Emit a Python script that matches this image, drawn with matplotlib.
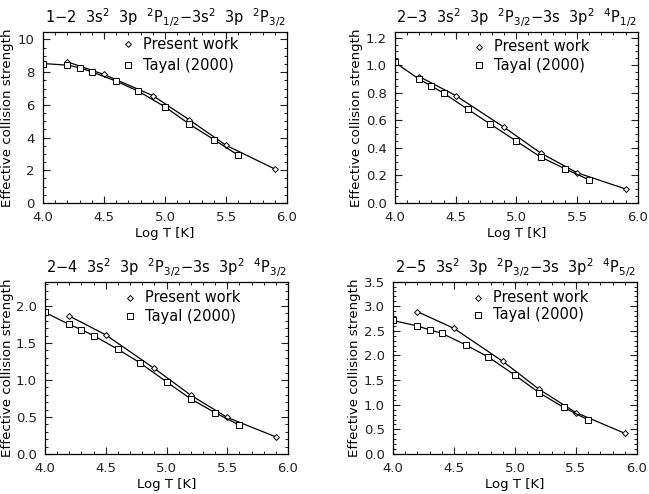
import numpy as np
import matplotlib
matplotlib.use("Agg")
import matplotlib.pyplot as plt
from matplotlib.ticker import MultipleLocator

# log T grids
logt_present = [4.2, 4.5, 4.9, 5.2, 5.5, 5.9]
logt_tayal = [4.0, 4.2, 4.3, 4.4, 4.6, 4.78, 5.0, 5.2, 5.4, 5.6]

# 1-2 transition
present_12 = [8.63, 7.86, 6.57, 5.08, 3.53, 2.08]
tayal_12 = [8.53, 8.43, 8.27, 8.02, 7.45, 6.84, 5.88, 4.82, 3.88, 2.92]

# 2-3 transition
present_23 = [0.917, 0.78, 0.549, 0.363, 0.22, 0.102]
tayal_23 = [1.02, 0.898, 0.849, 0.798, 0.68, 0.576, 0.449, 0.334, 0.249, 0.168]

# 2-4 transition
present_24 = [1.864, 1.61, 1.156, 0.794, 0.494, 0.231]
tayal_24 = [1.914, 1.75, 1.68, 1.60, 1.415, 1.234, 0.975, 0.744, 0.558, 0.39]

# 2-5 transition
present_25 = [2.89, 2.55, 1.88, 1.31, 0.84, 0.42]
tayal_25 = [2.71, 2.60, 2.52, 2.45, 2.21, 1.97, 1.60, 1.24, 0.945, 0.69]

titles = [
    r'1$-$2  3s$^2$  3p  $^2$P$_{1/2}$$-$3s$^2$  3p  $^2$P$_{3/2}$',
    r'2$-$3  3s$^2$  3p  $^2$P$_{3/2}$$-$3s  3p$^2$  $^4$P$_{1/2}$',
    r'2$-$4  3s$^2$  3p  $^2$P$_{3/2}$$-$3s  3p$^2$  $^4$P$_{3/2}$',
    r'2$-$5  3s$^2$  3p  $^2$P$_{3/2}$$-$3s  3p$^2$  $^4$P$_{5/2}$',
]
present = [present_12, present_23, present_24, present_25]
tayal = [tayal_12, tayal_23, tayal_24, tayal_25]
ymax = [10.45, 1.24, 2.33, 3.5]
ymajor = [2, 0.2, 0.5, 0.5]
yminor = [0.5, 0.05, 0.1, 0.1]
yfmt = ['%d', '%.1f', '%.1f', '%.1f']

# axes boxes [left, bottom, width, height] in figure fraction
boxes = [
    [0.0663, 0.589, 0.376, 0.346],
    [0.6086, 0.589, 0.374, 0.346],
    [0.0693, 0.081, 0.3745, 0.349],
    [0.6055, 0.081, 0.376, 0.349],
]
ylabel_x = [-0.119, -0.132, -0.128, -0.131]
legend_y = [(0.93, 0.807), (0.914, 0.807), (0.907, 0.80), (0.905, 0.807)]

plt.rcParams['font.family'] = 'DejaVu Sans'
plt.rcParams['mathtext.fontset'] = 'dejavusans'

fig = plt.figure(figsize=(6.49, 4.94), dpi=100)

for i in range(4):
    ax = fig.add_axes(boxes[i])
    ax.plot(logt_present, present[i], color='black', lw=0.9,
            marker='D', ms=3.0, mfc='white', mec='black', mew=0.7)
    ax.plot(logt_tayal, tayal[i], color='black', lw=0.9,
            marker='s', ms=4.5, mfc='white', mec='black', mew=0.7)
    ax.set_xlim(4.0, 6.0)
    ax.set_ylim(0, ymax[i])
    ax.xaxis.set_major_locator(MultipleLocator(0.5))
    ax.xaxis.set_minor_locator(MultipleLocator(0.1))
    ax.yaxis.set_major_locator(MultipleLocator(ymajor[i]))
    ax.yaxis.set_minor_locator(MultipleLocator(yminor[i]))
    ax.yaxis.set_major_formatter(matplotlib.ticker.FormatStrFormatter(yfmt[i]))
    ax.xaxis.set_major_formatter(matplotlib.ticker.FormatStrFormatter('%.1f'))
    ax.tick_params(which='both', direction='in', top=True, right=True,
                   labelsize=9.5, colors='#222222')
    ax.tick_params(which='major', length=5, width=0.8, pad=6)
    ax.tick_params(which='minor', length=2.5, width=0.7)
    for s in ax.spines.values():
        s.set_linewidth(0.9)
    ax.set_xlabel('Log T [K]', fontsize=9.5, labelpad=2)
    ax.set_ylabel('Effective collision strength', fontsize=9.6)
    ax.yaxis.set_label_coords(ylabel_x[i], 0.5)
    ax.set_title(titles[i], fontsize=10.5, pad=6)

    # legend drawn by hand like the IDL original
    y1, y2 = legend_y[i]
    ax.plot([0.348], [y1], transform=ax.transAxes, marker='D', ms=3.0,
            mfc='white', mec='black', mew=0.7, ls='none')
    ax.plot([0.348], [y2], transform=ax.transAxes, marker='s', ms=4.5,
            mfc='white', mec='black', mew=0.7, ls='none')
    ax.text(0.41, y1, 'Present work', transform=ax.transAxes,
            fontsize=10.5, va='center', ha='left')
    ax.text(0.41, y2, 'Tayal (2000)', transform=ax.transAxes,
            fontsize=10.5, va='center', ha='left')

fig.savefig('out.png', dpi=100)
